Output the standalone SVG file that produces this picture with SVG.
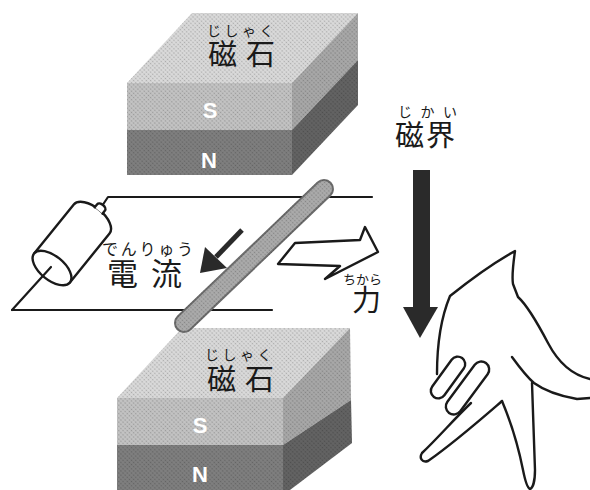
<svg xmlns="http://www.w3.org/2000/svg" width="590" height="490" viewBox="0 0 590 490">
  <style>
    .jp { font-family: "Noto Sans CJK JP", "Noto Sans CJK SC", sans-serif; fill: #1a1a1a; }
    .pole { font-family: "Liberation Sans", Arial, sans-serif; font-weight: bold; font-size: 22px; fill: #ffffff; text-anchor: middle; }
    .wire { fill: none; stroke: #1a1a1a; stroke-width: 2.2; stroke-linecap: round; stroke-linejoin: round; }
    .outline { fill: #ffffff; stroke: #1a1a1a; stroke-width: 2.4; stroke-linejoin: round; stroke-linecap: round; }
    .line { fill: none; stroke: #1a1a1a; stroke-width: 2.4; stroke-linejoin: round; stroke-linecap: round; }
    .topface { fill: #dadada; }
    .frontS { fill: #c3c3c3; }
    .frontN { fill: #7f7f7f; }
    .sideS { fill: #a8a8a8; }
    .sideN { fill: #636363; }
    .screen { fill: url(#screen); }
  </style>
  <defs>
    <!-- halftone screen laid over the grey surfaces -->
    <pattern id="screen" width="3" height="3" patternUnits="userSpaceOnUse" patternTransform="rotate(45)">
      <circle cx="1.5" cy="1.5" r="0.8" fill="#000000" fill-opacity="0.22"/>
    </pattern>
  </defs>

  <rect width="590" height="490" fill="#ffffff"/>

  <!-- upper magnet -->
  <g id="magnet-top">
    <polygon class="topface" points="192,13 358,13 292,83 127,83"/>
    <polygon class="frontS" points="127,83 292,83 292,130 127,130"/>
    <polygon class="frontN" points="127,130 292,130 292,175 127,175"/>
    <polygon class="sideS" points="292,83 358,13 358,60 292,130"/>
    <polygon class="sideN" points="292,130 358,60 358,105 292,175"/>
    <polygon class="screen" points="192,13 358,13 358,105 292,175 127,175 127,83"/>
    <text class="jp">
      <tspan x="207" y="36" font-size="14" letter-spacing="3.5">じしゃく</tspan>
      <tspan x="208" y="65" font-size="29" letter-spacing="9">磁石</tspan>
    </text>
    <text class="pole" x="210" y="118">S</text>
    <text class="pole" x="209" y="168">N</text>
  </g>

  <!-- lower magnet -->
  <g id="magnet-bottom">
    <polygon class="topface" points="182,328 350,328 283,398 117,398"/>
    <polygon class="frontS" points="117,398 283,398 283,445 117,445"/>
    <polygon class="frontN" points="117,445 283,445 283,490 117,490"/>
    <polygon class="sideS" points="283,398 350,328 351,400 283,445"/>
    <polygon class="sideN" points="283,445 351,400 352,443 290,490 283,490"/>
    <polygon class="screen" points="182,328 350,328 352,443 290,490 117,490 117,398"/>
    <text class="jp">
      <tspan x="205" y="360" font-size="14" letter-spacing="3.5">じしゃく</tspan>
      <tspan x="207" y="390" font-size="29" letter-spacing="9">磁石</tspan>
    </text>
    <text class="pole" x="200" y="433">S</text>
    <text class="pole" x="200" y="482">N</text>
  </g>

  <!-- circuit: wires and battery -->
  <g id="circuit">
    <polyline class="wire" points="102,206 108,197 372,197"/>
    <polyline class="wire" points="272,310 12,310"/>
    <g id="battery" transform="translate(52,268) rotate(-51)">
      <path class="outline" d="M0,-23 L63,-23 A12,23 0 0 1 63,23 L0,23 Z" stroke-width="1.8"/>
      <ellipse class="outline" cx="0" cy="0" rx="12" ry="23" stroke-width="1.8"/>
      <path class="outline" d="M74,-5 L78,-5 A3,5 0 0 1 78,5 L74,5" stroke-width="1.6"/>
    </g>
    <line class="wire" x1="12" y1="310" x2="51" y2="267"/>
  </g>

  <!-- conductor rod -->
  <g id="rod">
    <line x1="324" y1="189" x2="184" y2="323" stroke="#6e6e6e" stroke-width="20" stroke-linecap="round"/>
    <line x1="324" y1="189" x2="184" y2="323" stroke="#ababab" stroke-width="16" stroke-linecap="round"/>
    <line x1="324" y1="189" x2="184" y2="323" stroke="url(#screen)" stroke-width="20" stroke-linecap="round"/>
  </g>

  <!-- current arrow -->
  <g id="current">
    <line x1="242" y1="230" x2="216" y2="257" stroke="#2a2a2a" stroke-width="5"/>
    <polygon points="200,273 205,247 227,268" fill="#2a2a2a"/>
    <text class="jp">
      <tspan x="102" y="255" font-size="16" letter-spacing="2.75">でんりゅう</tspan>
      <tspan x="107" y="285" font-size="31" letter-spacing="13">電流</tspan>
    </text>
  </g>

  <!-- force arrow -->
  <g id="force">
    <polygon class="outline" points="278,264 295,243 360,240 365,227 378,252 325,279 340,266"/>
    <text class="jp">
      <tspan x="343" y="284" font-size="13">ちから</tspan>
      <tspan x="352" y="311" font-size="29">力</tspan>
    </text>
  </g>

  <!-- magnetic field arrow -->
  <g id="field">
    <text class="jp">
      <tspan x="398" y="117" font-size="14" letter-spacing="8.5">じかい</tspan>
      <tspan x="395" y="146" font-size="29" letter-spacing="2">磁界</tspan>
    </text>
    <rect x="413" y="170" width="17" height="138" fill="#2a2a2a"/>
    <polygon points="403,307 438,307 420,338" fill="#2a2a2a"/>
  </g>

  <!-- left hand -->
  <g id="hand">
    <path class="line" d="M437,374 C437,350 440,320 450,296 C470,280 495,262 515,251 C513,265 512,278 513,284 L518,297 C528,306 538,324 548,343 C558,362 572,375 590,379"/>
    <path class="line" d="M512,357 C520,368 527,377 534,383 C545,391 560,396 577,399 L590,398"/>
    <path class="line" d="M532,383 C533,410 534,445 535,470 C535,480 533,488 530,489 C527,488 525,480 523,470 C518,445 510,420 502,401"/>
    <path class="line" d="M502,401 C480,420 455,442 428,461 C422,463 419,458 422,453 C438,438 455,418 471,403"/>
    <rect class="outline" x="-24" y="-7.5" width="48" height="15" rx="7.5" transform="translate(448,377.5) rotate(-54)"/>
    <rect class="outline" x="-31" y="-8" width="62" height="16" rx="8" transform="translate(467.5,388) rotate(-53.5)"/>
  </g>
</svg>
